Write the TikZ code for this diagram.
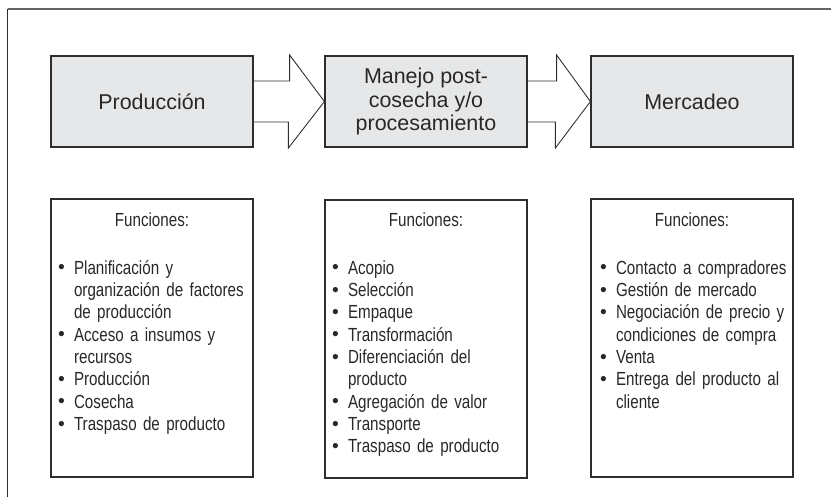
\documentclass[tikz,border=0pt]{standalone}
\usepackage{fontspec}
\setmainfont{Liberation Sans}
\newfontfamily\angosta{Liberation Sans}[FakeStretch=0.8]
\usetikzlibrary{positioning}
\definecolor{C}{RGB}{230, 231, 232}
\definecolor{L}{RGB}{45, 45, 45}
\definecolor{M}{RGB}{100, 100, 100}
\definecolor{T}{RGB}{40, 40, 40}

\newlength{\sangria}
\setlength{\sangria}{0.32cm}
\newcommand{\vineta}{\raisebox{0.2pt}{\normalfont\fontsize{11pt}{0pt}\selectfont\textbullet}}
\newcommand{\punto}[1]{\par\noindent\hangindent=\sangria\hangafter=1\makebox[\sangria][l]{\vineta}#1}

\tikzset{
  caja/.style={draw=L, fill=C, line width=0.7pt, minimum width=4.04cm, minimum height=1.82cm,
    inner sep=0pt, align=center, text=T, font=\fontsize{12.2pt}{13.3pt}\selectfont},
  funcion/.style={draw=L, line width=0.7pt, minimum width=4.04cm, minimum height=5.56cm, inner sep=0pt},
  lista/.style={text width=4.4cm, inner sep=0pt, anchor=north, align=left, text=T,
    font=\angosta\fontsize{10.8pt}{12.7pt}\selectfont},
  flecha/.style={draw=L, line width=0.5pt, line join=miter}
}

\begin{document}
\begin{tikzpicture}[x=0.02cm, y=-0.02cm]
    \useasboundingbox (0,0) rectangle (831,497);

    %Marco exterior
    \draw[M, line width=1.1pt] (7.5,9) -- (831,9);
    \draw[L, line width=0.8pt] (7.5,8.5) -- (7.5,497);

    %Etapas
    \node[caja] (prod) at (152,101.5) {Producción};
    \node[caja] (manejo) at (426,101.5) {Manejo post-\\cosecha y/o\\procesamiento};
    \node[caja] (merc) at (692,101.5) {Mercadeo};

    %Flechas entre etapas
    \draw[flecha] (prod.east) ++(0,-20.5) -- ++(36,0) -- ++(0,-26) -- (manejo.west)
        -- ++(-36,46.5) -- ++(0,-26) -- ++(-36,0);
    \draw[flecha] (manejo.east) ++(0,-20.5) -- ++(29,0) -- ++(0,-26) -- (merc.west)
        -- ++(-35,46.5) -- ++(0,-26) -- ++(-29,0);

    %Cajas de funciones
    \node[funcion] (fprod) at (152,338) {};
    \node[funcion] (fmanejo) at (426,339) {};
    \node[funcion] (fmerc) at (692,338) {};

    %Textos de funciones
    \node[lista] (lprod) at (152,212.8) {{\centering Funciones:\par}\vspace{14.2pt}
        \leftskip=0.32cm
        \punto{Planificación y\newline organización de factores\newline de producción}
        \punto{Acceso a insumos y\newline recursos}
        \punto{Producción}
        \punto{Cosecha}
        \punto{Traspaso de producto}\par};
    \node[lista] (lmanejo) at (426,212.8) {{\centering Funciones:\par}\vspace{14.2pt}
        \leftskip=0.32cm
        \punto{Acopio}
        \punto{Selección}
        \punto{Empaque}
        \punto{Transformación}
        \punto{Diferenciación del\newline producto}
        \punto{Agregación de valor}
        \punto{Transporte}
        \punto{Traspaso de producto}\par};
    \node[lista] (lmerc) at (692,212.8) {{\centering Funciones:\par}\vspace{14.2pt}
        \leftskip=0.36cm
        \punto{Contacto a compradores}
        \punto{Gestión de mercado}
        \punto{Negociación de precio y\newline condiciones de compra}
        \punto{Venta}
        \punto{Entrega del producto al\newline cliente}\par};
\end{tikzpicture}
\end{document}
